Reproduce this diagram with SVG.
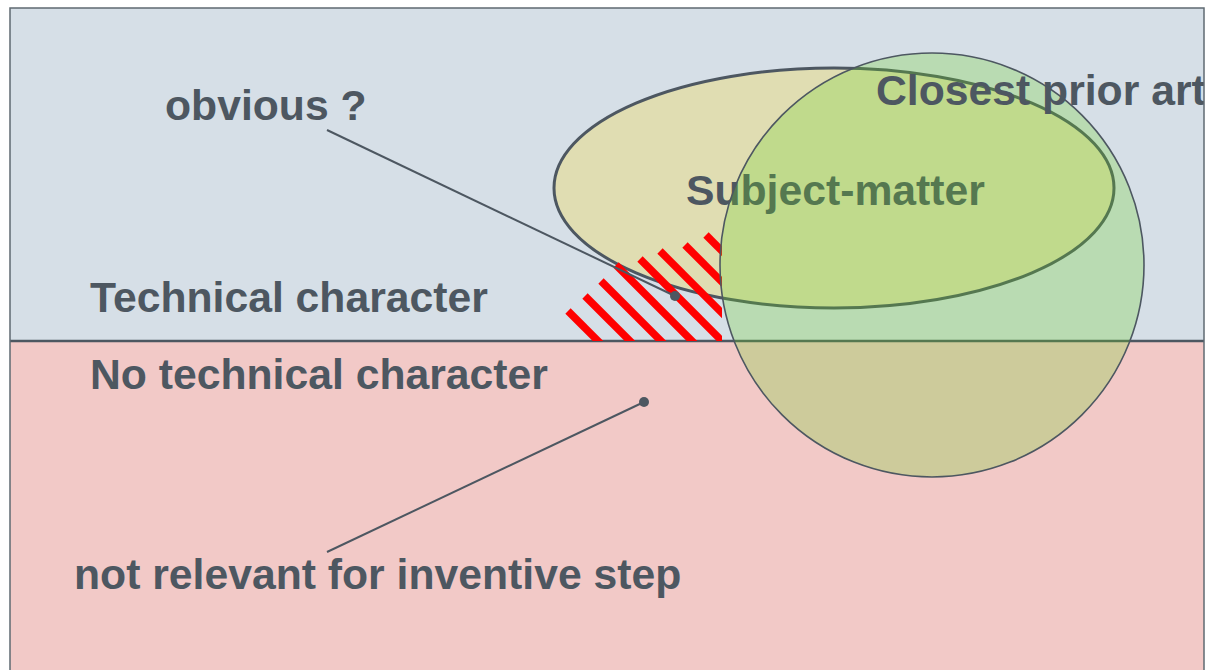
<svg xmlns="http://www.w3.org/2000/svg" width="1206" height="670" viewBox="0 0 1206 670">
  <defs>
    <style>
      .lbl { font-family: "Liberation Sans", Arial, sans-serif; font-weight: bold; font-size: 42.7px; fill: #4D5761; }
      .ptr { stroke: #4D5761; stroke-width: 2; fill: none; }
      .dot { fill: #4D5761; }
      .hatch { stroke: #FF0000; stroke-width: 7.5; stroke-linecap: butt; }
    </style>
    <clipPath id="frameClip">
      <rect x="10" y="8" width="1194" height="670"/>
    </clipPath>
    <clipPath id="hatchClip">
      <rect x="540" y="220" width="182" height="121"/>
    </clipPath>
  </defs>
  <rect width="1206" height="670" fill="#FFFFFF"/>
  <g id="frame" clip-path="url(#frameClip)">
    <rect id="technical" x="10" y="8" width="1194" height="333" fill="#D6DFE7"/>
    <rect id="non-technical" x="10" y="341" width="1194" height="340" fill="#F2C9C7"/>
    <line x1="10" y1="341" x2="1204" y2="341" stroke="#4D5761" stroke-width="2.5"/>
    <g id="subject-matter">
      <ellipse cx="834" cy="188" rx="280" ry="120" fill="#E0DDB2" stroke="#4D5761" stroke-width="3"/>
      <text class="lbl" x="686" y="205">Subject-matter</text>
    </g>
    <g id="hatch" clip-path="url(#hatchClip)">
      <line class="hatch" x1="568" y1="311" x2="668" y2="411"/>
      <line class="hatch" x1="585" y1="296" x2="685" y2="396"/>
      <line class="hatch" x1="601" y1="281" x2="701" y2="381"/>
      <line class="hatch" x1="616" y1="265" x2="716" y2="365"/>
      <line class="hatch" x1="640" y1="259" x2="740" y2="359"/>
      <line class="hatch" x1="660" y1="251" x2="760" y2="351"/>
      <line class="hatch" x1="685" y1="245" x2="785" y2="345"/>
      <line class="hatch" x1="706" y1="235" x2="806" y2="335"/>
    </g>
    <g id="closest-prior-art">
      <circle cx="932" cy="265" r="212" fill="#6BD426" fill-opacity="0.27" stroke="#4D5761" stroke-width="1.6"/>
      <text class="lbl" x="876" y="105">Closest prior art</text>
    </g>
    <g id="connectors">
      <line class="ptr" x1="327" y1="130" x2="675" y2="296"/>
      <circle class="dot" cx="675" cy="296" r="5"/>
      <line class="ptr" x1="327" y1="552" x2="644" y2="402"/>
      <circle class="dot" cx="644" cy="402" r="5"/>
    </g>
    <g id="labels">
      <text class="lbl" x="165" y="120">obvious ?</text>
      <text class="lbl" x="90" y="312">Technical character</text>
      <text class="lbl" x="90" y="389">No technical character</text>
      <text class="lbl" x="74" y="589">not relevant for inventive step</text>
    </g>
  </g>
  <rect x="10" y="8" width="1194" height="680" fill="none" stroke="#5F6A72" stroke-width="1.5"/>
</svg>
